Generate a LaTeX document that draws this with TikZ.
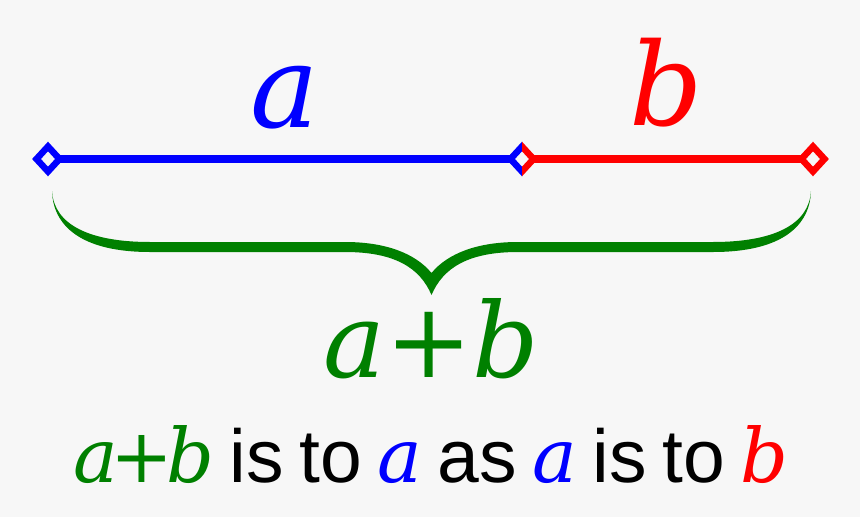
\documentclass[tikz,border=0pt]{standalone}
\usepackage{fontspec}
\setmainfont{Liberation Sans}
\newfontfamily\dser{DejaVu Serif}
\usetikzlibrary{calc}
\definecolor{bggray}{HTML}{F7F7F7}
\definecolor{dgreen}{HTML}{008000}
\begin{document}
\begin{tikzpicture}[x=1pt,y=-1pt,
  seg/.style={line width=7.5pt},
  endmark/.style={line width=6.5pt, miter limit=10},
  lbl/.style={inner sep=0pt, anchor=base}]
\useasboundingbox (0,0) rectangle (860,517);
\fill[bggray] (0,0) rectangle (860,517);
\coordinate (A) at (48,159);
\coordinate (M) at (522,159);
\coordinate (B) at (813,159);
\draw[seg,blue] (A) -- (M);
\draw[seg,red] (M) -- (B);
% end diamonds
\draw[endmark,blue,fill=bggray] ($(A)+(0,-12.5)$) -- ++(11.5,12.5) -- ++(-11.5,12.5) -- ++(-11.5,-12.5) -- cycle;
\draw[endmark,red,fill=bggray] ($(B)+(0,-12.5)$) -- ++(11.5,12.5) -- ++(-11.5,12.5) -- ++(-11.5,-12.5) -- cycle;
% middle diamond, half blue, half red
\fill[bggray] ($(M)+(0,-12.5)$) -- ++(11.5,12.5) -- ++(-11.5,12.5) -- ++(-11.5,-12.5) -- cycle;
\begin{scope}
\clip ($(M)+(-30,-30)$) rectangle ($(M)+(0,30)$);
\draw[endmark,blue] ($(M)+(0,-12.5)$) -- ++(11.5,12.5) -- ++(-11.5,12.5) -- ++(-11.5,-12.5) -- cycle;
\end{scope}
\begin{scope}
\clip ($(M)+(0,-30)$) rectangle ($(M)+(30,30)$);
\draw[endmark,red] ($(M)+(0,-12.5)$) -- ++(11.5,12.5) -- ++(-11.5,12.5) -- ++(-11.5,-12.5) -- cycle;
\end{scope}
% brace
\fill[dgreen] (52,191) .. controls (54,225) and (90,242) .. (150,242) -- (345,242)
  .. controls (385,242) and (415,253) .. (431.5,273)
  .. controls (448,253) and (478,242) .. (518,242) -- (713,242)
  .. controls (773,242) and (809,225) .. (811,191)
  .. controls (810,225) and (783,252) .. (713,252) -- (518,252)
  .. controls (468,252) and (443,268) .. (431.5,295)
  .. controls (420,268) and (395,252) .. (345,252) -- (150,252)
  .. controls (80,252) and (53,225) .. (52,191) -- cycle;
% labels
\node[lbl,blue] (ta) at (285,127) {\fontsize{115}{115}\selectfont\dser\itshape a};
\node[lbl,red] (tb) at (666,125) {\fontsize{115}{115}\selectfont\dser\itshape b};
\node[lbl,dgreen] (sum) at (431,377) {\fontsize{104}{104}\selectfont\dser\itshape a\upshape+\itshape b};
\node[lbl] (eq) at (431,482) {\fontsize{75}{75}\selectfont\spaceskip=15.5pt \textcolor{dgreen}{\dser\itshape a\kern-0.1em\upshape+\kern-0.1em\itshape b} is to \textcolor{blue}{\dser\itshape a} as \textcolor{blue}{\dser\itshape a} is to \textcolor{red}{\dser\itshape b}};
\end{tikzpicture}
\end{document}
